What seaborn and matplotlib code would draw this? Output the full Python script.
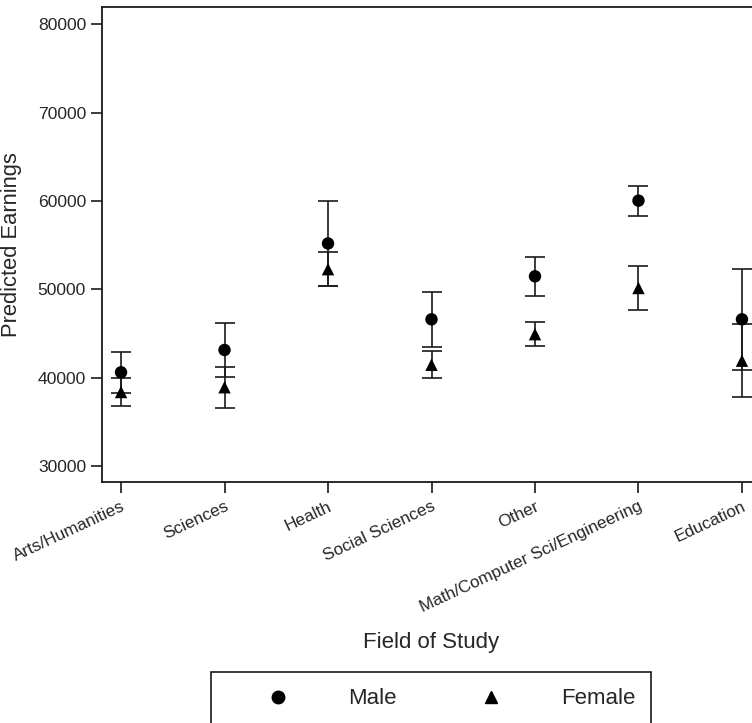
import numpy as np
import pandas as pd
import matplotlib
matplotlib.use("Agg")
import matplotlib.pyplot as plt
import seaborn as sns
from matplotlib.patches import Rectangle

fields = ["Arts/Humanities", "Sciences", "Health", "Social Sciences", "Other",
          "Math/Computer Sci/Engineering", "Education"]
male_mean = [40610, 43140, 55200, 46610, 51480, 60050, 46610]
male_ci = [2290, 3020, 4810, 3080, 2190, 1700, 5700]
female_mean = [38380, 38920, 52290, 41470, 44930, 50160, 41930]
female_ci = [1640, 2320, 1910, 1550, 1340, 2490, 4110]
y_ticks = [30000, 40000, 50000, 60000, 70000, 80000]

df = pd.DataFrame({
    "field": fields * 2,
    "earnings": male_mean + female_mean,
    "ci": male_ci + female_ci,
    "sex": ["Male"] * len(fields) + ["Female"] * len(fields),
})

sns.set_style("white")
plt.rcParams["font.family"] = ["Liberation Sans", "DejaVu Sans"]

fig = plt.figure(figsize=(7.52, 7.23), dpi=100)
ax = fig.add_axes([102 / 752, 1 - 482 / 723, 1 - 102 / 752, (482 - 7) / 723])

col = "#1a1a1a"
for sex in ["Male", "Female"]:
    sub = df[df["sex"] == sex]
    ax.errorbar(np.arange(len(fields)), sub["earnings"], yerr=sub["ci"],
                fmt="none", ecolor=col, elinewidth=1.2, capsize=7.5,
                capthick=1.2, zorder=2)

sns.scatterplot(data=df, x="field", y="earnings", style="sex",
                markers={"Male": "o", "Female": "^"}, color="black",
                s=80, edgecolor="none", ax=ax, zorder=3, legend=False)

ax.set_xlim(-0.184, 6.097)
ax.set_ylim(28190, 81980)
ax.set_yticks(y_ticks)
ax.set_yticklabels([str(v) for v in y_ticks], fontsize=12.6)
ax.set_xticks(range(len(fields)))
ax.set_xticklabels(fields, rotation=25, ha="right", va="top",
                   rotation_mode="anchor", fontsize=12.3)
ax.tick_params(axis="both", direction="out", length=8, width=1.2,
               color=col, left=True, bottom=True)
ax.tick_params(axis="x", pad=4)
ax.set_ylabel("Predicted Earnings", fontsize=15.8)
ax.yaxis.set_label_coords(-0.123, 0.5)
ax.set_xlabel("Field of Study", fontsize=16)
ax.xaxis.set_label_coords((431 - 102) / 650, -150 / 475)

for side in ["left", "top", "bottom"]:
    ax.spines[side].set_visible(True)
    ax.spines[side].set_color(col)
    ax.spines[side].set_linewidth(1.3)
ax.spines["right"].set_visible(False)

# legend box
fig.patches.append(Rectangle((211 / 752, -0.01), 440 / 752, 1 - 672 / 723 + 0.01,
                             transform=fig.transFigure, fill=False,
                             edgecolor=col, linewidth=1.2))
h1 = plt.Line2D([], [], marker="o", color="black", linestyle="none", markersize=9)
h2 = plt.Line2D([], [], marker="^", color="black", linestyle="none", markersize=9)
fig.legend([h1, h2], ["Male", "Female"], loc="center left",
           bbox_to_anchor=(267 / 752, 1 - 699 / 723), ncol=2, frameon=False,
           fontsize=16, handlelength=1, handletextpad=2.65, columnspacing=3.75,
           borderpad=0, borderaxespad=0)

fig.savefig("out.png", dpi=100)
